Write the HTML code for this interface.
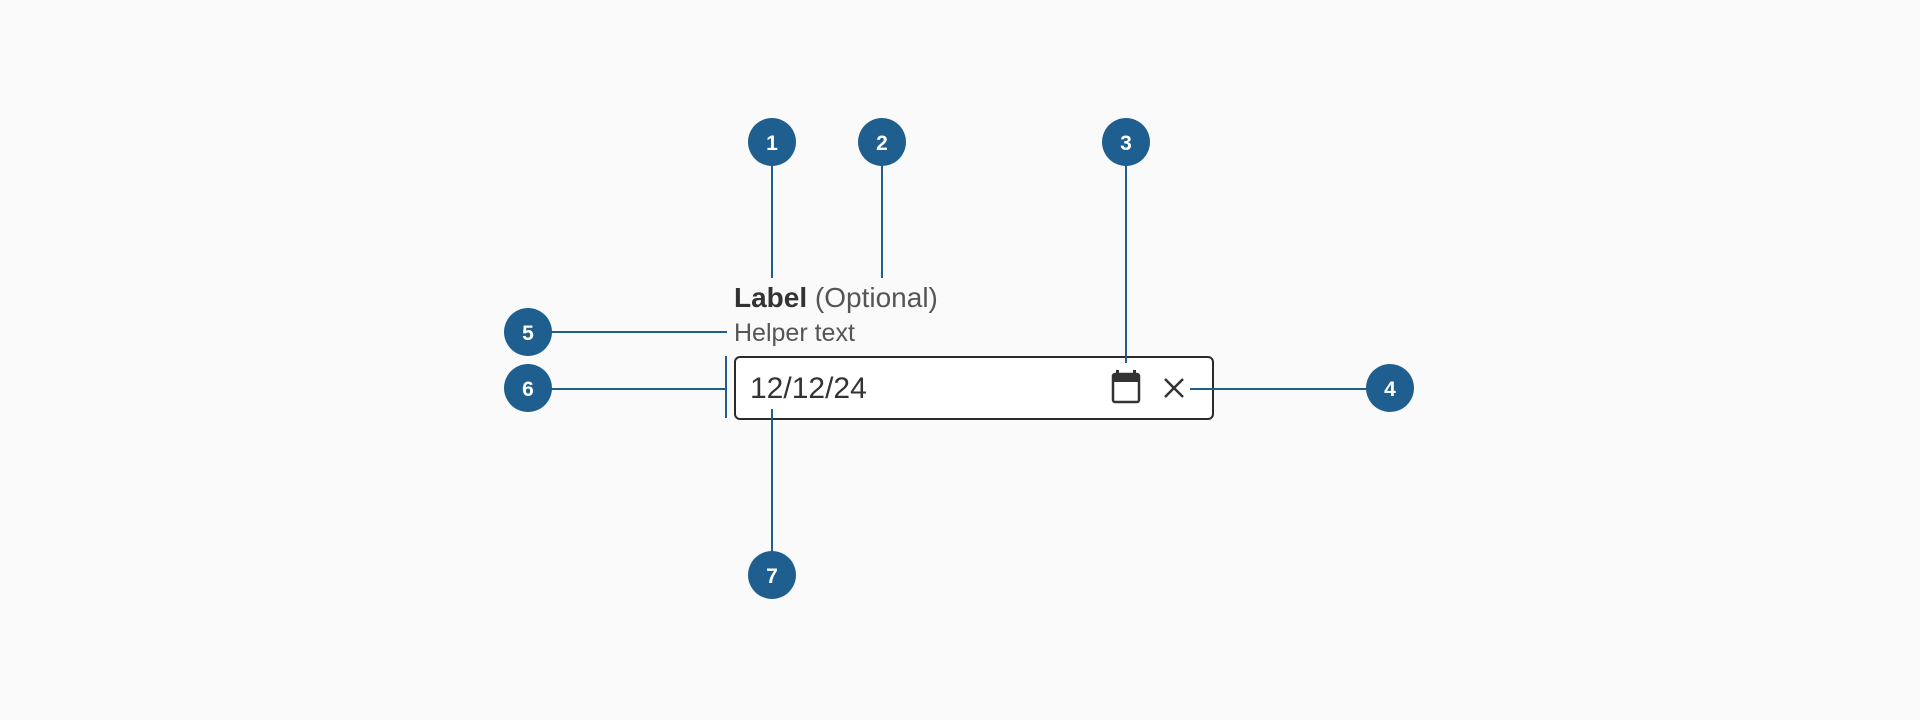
<!DOCTYPE html>
<html><head><style>
body{margin:0;width:1920px;height:720px;background:#fafafa;font-family:"Liberation Sans",sans-serif;position:relative;overflow:hidden}
.t{position:absolute;white-space:nowrap;line-height:1}
</style></head><body>
<svg width="1920" height="720" style="position:absolute;left:0;top:0">
<rect x="735" y="357" width="478" height="62" rx="5" fill="#fff" stroke="#2b2b2b" stroke-width="2"/>
<g stroke="#1f5f8f" stroke-width="2" fill="none">
<line x1="772" y1="160" x2="772" y2="278"/>
<line x1="882" y1="160" x2="882" y2="278"/>
<line x1="1126" y1="160" x2="1126" y2="363"/>
<line x1="550" y1="332" x2="727" y2="332"/>
<line x1="550" y1="389" x2="726" y2="389"/>
<line x1="726" y1="356" x2="726" y2="418"/>
<line x1="1190" y1="389" x2="1370" y2="389"/>
<line x1="772" y1="409" x2="772" y2="560"/>
</g>
<g fill="#1f5f8f">
<circle cx="772" cy="142" r="24"/><circle cx="882" cy="142" r="24"/><circle cx="1126" cy="142" r="24"/>
<circle cx="1390" cy="388" r="24"/><circle cx="528" cy="332" r="24"/><circle cx="528" cy="388" r="24"/>
<circle cx="772" cy="575" r="24"/>
</g>
<g fill="#fff" font-family="Liberation Sans, sans-serif" font-size="21" font-weight="bold" text-anchor="middle">
<text x="772" y="150">1</text><text x="882" y="150">2</text><text x="1126" y="150">3</text>
<text x="1390" y="396">4</text><text x="528" y="340">5</text><text x="528" y="396">6</text><text x="772" y="583">7</text>
</g>
<rect x="1113" y="374" width="26" height="28" rx="2" fill="none" stroke="#333" stroke-width="2.5"/>
<rect x="1113" y="374" width="26" height="8" fill="#333"/>
<rect x="1116" y="370" width="3" height="6" fill="#333"/><rect x="1133" y="370" width="3" height="6" fill="#333"/>
<g stroke="#333" stroke-width="2.5"><line x1="1165" y1="379" x2="1183" y2="397"/><line x1="1183" y1="379" x2="1165" y2="397"/></g>
</svg>
<div class="t" style="left:734px;top:284px;font-size:28px;color:#333"><b>Label</b> <span style="color:#555">(Optional)</span></div>
<div class="t" style="left:734px;top:321px;font-size:25px;color:#555">Helper text</div>
<div class="t" style="left:750px;top:374px;font-size:30px;color:#333">12/12/24</div>
</body></html>
